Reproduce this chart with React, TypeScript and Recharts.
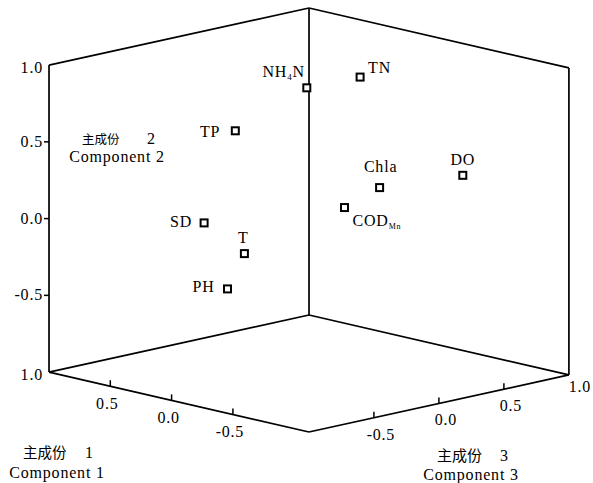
import { ScatterChart, Scatter, XAxis, YAxis, ReferenceLine } from 'recharts';

// loadings as they sit in the projected picture:
// x = horizontal position in the view plane, y = height read on the Component 2 scale
const variables = ['NH4N', 'TN', 'TP', 'SD', 'T', 'PH', 'Chla', 'DO', 'CODMn'];
const viewX = [0.04, 0.45, -0.51, -0.75, -0.44, -0.57, 0.6, 1.24, 0.33];
const viewY = [0.85, 0.92, 0.57, -0.03, -0.23, -0.46, 0.2, 0.28, 0.07];

const comp2Ticks = [-0.5, 0.0, 0.5, 1.0];
const comp1Ticks = [1.0, 0.5, 0.0, -0.5];
const comp3Ticks = [-0.5, 0.0, 0.5, 1.0];

// box extents of the three components
const C1 = [-1.12, 1];
const C2 = [-1, 1];
const C3 = [-1, 1];

const W = 593;
const H = 483;
const X_DOMAIN = [-2.32, 2.2415];
const Y_DOMAIN = [-1.7244, 1.4221];

const serif = { fontFamily: 'Liberation Serif, Times New Roman, serif' };
const cjk = { fontFamily: 'Noto Sans CJK SC, sans-serif' };

// oblique projection of (c1, c2, c3) into the view plane
const project = (c1: number, c2: number, c3: number) => ({
  x: c3 - 0.943 * c1,
  y: c2 + 0.184 * c1 + 0.186 * c3,
});

type P3 = [number, number, number];
const edges: [P3, P3][] = [
  [[C1[1], C2[0], C3[0]], [C1[1], C2[1], C3[0]]],
  [[C1[1], C2[0], C3[1]], [C1[1], C2[1], C3[1]]],
  [[C1[0], C2[0], C3[1]], [C1[0], C2[1], C3[1]]],
  [[C1[1], C2[1], C3[0]], [C1[1], C2[1], C3[1]]],
  [[C1[1], C2[1], C3[1]], [C1[0], C2[1], C3[1]]],
  [[C1[1], C2[0], C3[0]], [C1[0], C2[0], C3[0]]],
  [[C1[0], C2[0], C3[0]], [C1[0], C2[0], C3[1]]],
  [[C1[1], C2[0], C3[0]], [C1[1], C2[0], C3[1]]],
  [[C1[1], C2[0], C3[1]], [C1[0], C2[0], C3[1]]],
];

const fmt = (v: number) => (v < 0 ? '-' : '') + Math.abs(v).toFixed(1);

const tickData = [
  ...comp2Ticks.map(v => ({ ...project(C1[1], v, C3[0]), label: fmt(v), axis: 'c2', end: v === 1 })),
  ...comp1Ticks.map(v => ({ ...project(v, C2[0], C3[0]), label: fmt(v), axis: 'c1', end: v === 1 })),
  ...comp3Ticks.map(v => ({ ...project(C1[0], C2[0], v), label: fmt(v), axis: 'c3', end: v === 1 })),
];

const pointData = variables.map((name, i) => ({ name, x: viewX[i], y: viewY[i] }));

const labelPlace: Record<string, { dx: number; dy: number; anchor: 'start' | 'middle' | 'end' }> = {
  NH4N: { dx: -2, dy: -11, anchor: 'end' },
  TN: { dx: 8, dy: -4, anchor: 'start' },
  TP: { dx: -15, dy: 6, anchor: 'end' },
  SD: { dx: -12, dy: 4, anchor: 'end' },
  T: { dx: -1, dy: -11, anchor: 'middle' },
  PH: { dx: -13, dy: 3, anchor: 'end' },
  Chla: { dx: 1, dy: -16, anchor: 'middle' },
  DO: { dx: 0, dy: -10, anchor: 'middle' },
  CODMn: { dx: 8, dy: 18, anchor: 'start' },
};

function VarName({ name }: { name: string }) {
  if (name === 'NH4N') {
    return (
      <>
        NH<tspan fontSize={9} dy={3}>4</tspan>
        <tspan dy={-3}>N</tspan>
      </>
    );
  }
  if (name === 'CODMn') {
    return (
      <>
        COD<tspan fontSize={8} dy={3}>Mn</tspan>
      </>
    );
  }
  return <>{name}</>;
}

function PointShape(props: any) {
  const { cx, cy, payload } = props;
  const p = labelPlace[payload.name];
  return (
    <g>
      <rect x={cx - 3.5} y={cy - 3.5} width={7} height={7} fill="#fff" stroke="#000" strokeWidth={2} />
      <text
        x={cx + p.dx}
        y={cy + p.dy}
        textAnchor={p.anchor}
        style={serif}
        fontSize={16}
        letterSpacing={0.8}
        fill="#000"
      >
        <VarName name={payload.name} />
      </text>
    </g>
  );
}

function TickShape(props: any) {
  const { cx, cy, payload } = props;
  let mark = null;
  let tx = cx;
  let ty = cy;
  let anchor: 'start' | 'middle' | 'end' = 'middle';
  if (payload.axis === 'c2') {
    if (!payload.end) mark = <line x1={cx - 5} y1={cy} x2={cx} y2={cy} stroke="#000" strokeWidth={1.5} />;
    tx = cx - 6;
    ty = cy + (payload.end ? 8 : 5);
    anchor = 'end';
  } else if (payload.axis === 'c1') {
    if (payload.end) {
      tx = cx - 6;
      ty = cy + 8;
      anchor = 'end';
    } else {
      mark = <line x1={cx} y1={cy - 6} x2={cx} y2={cy} stroke="#000" strokeWidth={1.5} />;
      tx = cx - 3;
      ty = cy + 23;
    }
  } else {
    if (payload.end) {
      tx = cx + 11;
      ty = cy + 17;
    } else {
      mark = <line x1={cx} y1={cy - 6} x2={cx} y2={cy} stroke="#000" strokeWidth={1.5} />;
      tx = cx + 7;
      ty = cy + 22;
    }
  }
  return (
    <g>
      {mark}
      <text x={tx} y={ty} textAnchor={anchor} style={serif} fontSize={16} letterSpacing={0.8} fill="#000">
        {payload.label}
      </text>
    </g>
  );
}

export default function App() {
  return (
    <div style={{ position: 'absolute', left: 0, top: 0, width: W, height: H, background: '#fff' }}>
      <ScatterChart width={W} height={H} margin={{ top: 0, right: 0, bottom: 0, left: 0 }}>
        <XAxis type="number" dataKey="x" domain={X_DOMAIN} allowDataOverflow hide />
        <YAxis type="number" dataKey="y" domain={Y_DOMAIN} allowDataOverflow hide />
        {edges.map(([a, b], i) => (
          <ReferenceLine
            key={i}
            segment={[project(...a), project(...b)]}
            stroke="#000"
            strokeWidth={1.7}
            ifOverflow="visible"
          />
        ))}
        <Scatter data={tickData} shape={TickShape} isAnimationActive={false} />
        <Scatter data={pointData} shape={PointShape} isAnimationActive={false} />
      </ScatterChart>
      <svg width={W} height={H} style={{ position: 'absolute', left: 0, top: 0, pointerEvents: 'none' }}>
        <text x={82} y={144} style={cjk} fontSize={12.5} fill="#000">主成份</text>
        <text x={147} y={144} style={serif} fontSize={16} fill="#000">2</text>
        <text x={117} y={162} textAnchor="middle" style={serif} fontSize={16} letterSpacing={0.8} fill="#000">
          Component 2
        </text>
        <text x={23} y={458} style={cjk} fontSize={14.5} fill="#000">主成份</text>
        <text x={85} y={458} style={serif} fontSize={16} fill="#000">1</text>
        <text x={57} y={478} textAnchor="middle" style={serif} fontSize={16} letterSpacing={0.8} fill="#000">
          Component 1
        </text>
        <text x={437} y={461} style={cjk} fontSize={15} fill="#000">主成份</text>
        <text x={500} y={461} style={serif} fontSize={16} fill="#000">3</text>
        <text x={471} y={480} textAnchor="middle" style={serif} fontSize={16} letterSpacing={0.8} fill="#000">
          Component 3
        </text>
      </svg>
    </div>
  );
}
